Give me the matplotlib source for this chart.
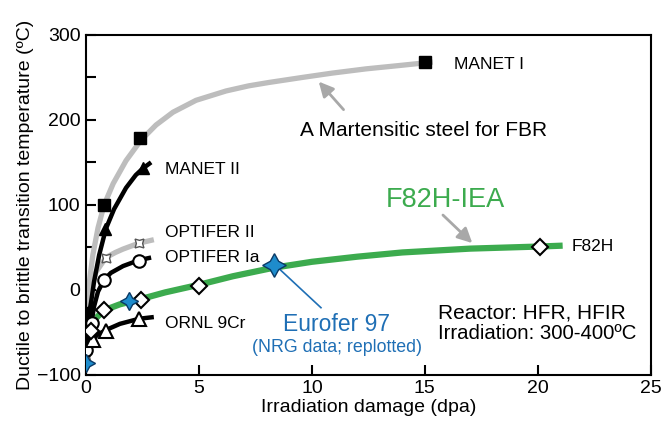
import matplotlib
matplotlib.use("Agg")
import matplotlib.pyplot as plt

plt.rcParams['font.family'] = ['Liberation Sans', 'DejaVu Sans']

# measured DBTT shift points (dpa, degC)
manet1_dpa = [0.0, 0.8, 2.4, 15.0]
manet1_t = [-27, 100, 179, 268]
manet2_dpa = [0.0, 0.86, 2.5]
manet2_t = [-42, 72, 143]
optifer2_dpa = [0.0, 0.88, 2.35]
optifer2_t = [-79, 37, 55]
optifer1a_dpa = [0.0, 0.27, 0.8, 2.35]
optifer1a_t = [-71, -39, 12, 34]
ornl_dpa = [0.3, 0.9, 2.35]
ornl_t = [-59, -48, -34]
f82h_dpa = [0.22, 0.8, 2.43, 5.0, 20.1]
f82h_t = [-48, -24, -12, 5, 50]
eurofer_dpa = [0.0, 1.9, 8.3]
eurofer_t = [-86, -13, 29]

# trend curves traced through each data set
manet1_fit_dpa = [0.03, 0.13, 0.3, 0.53, 0.8, 1.2, 1.77, 2.43, 3.1, 3.85, 4.87,
                  6.2, 7.2, 8.1, 9.6, 10.9, 12.4, 13.9, 15.35]
manet1_fit_t = [-30, 6, 41, 73, 100, 125, 152, 176, 194, 209, 223,
                234, 240, 244, 250, 255, 260, 264, 268]
manet2_fit_dpa = [0.05, 0.22, 0.35, 0.58, 0.88, 1.24, 1.77, 2.2, 2.52, 2.88]
manet2_fit_t = [-40, -15, 9, 41, 72, 95, 120, 135, 143, 150]
optifer2_fit_dpa = [0.05, 0.22, 0.44, 0.88, 1.3, 1.64, 2.35, 3.0]
optifer2_fit_t = [-35, 2, 21, 38, 44, 48, 55, 59]
optifer1a_fit_dpa = [0.08, 0.2, 0.35, 0.53, 0.8, 1.1, 1.64, 2.35, 2.88]
optifer1a_fit_t = [-65, -45, -20, -2, 12, 20, 28, 35, 38]
ornl_fit_dpa = [0.15, 0.5, 0.9, 1.5, 2.35, 3.0]
ornl_fit_t = [-62, -53, -47, -40, -34, -32]
f82h_fit_dpa = [0.45, 0.8, 1.5, 2.4, 3.5, 5.0, 6.5, 8.3, 10.0, 12.0, 14.0, 17.0, 20.1, 21.1]
f82h_fit_t = [-33, -24, -17, -11, -3, 6, 16, 26, 33, 39, 44, 48.5, 51, 52]

gray = '#bdbdbd'
green = '#3cab4e'
blue = '#1f6fb5'

fig = plt.figure(figsize=(6.62, 4.25), dpi=100)
ax = fig.add_axes([0.130, 0.118, 0.853, 0.800])

line_kw = dict(solid_capstyle='butt', solid_joinstyle='round')
ax.plot(manet1_fit_dpa, manet1_fit_t, color=gray, lw=3.8, zorder=2, **line_kw)
ax.plot(optifer2_fit_dpa, optifer2_fit_t, color=gray, lw=3.8, zorder=2, **line_kw)
ax.plot(f82h_fit_dpa, f82h_fit_t, color=green, lw=4.5, zorder=2, **line_kw)
ax.plot(manet2_fit_dpa, manet2_fit_t, color='black', lw=3.2, zorder=3, **line_kw)
ax.plot(optifer1a_fit_dpa, optifer1a_fit_t, color='black', lw=3.2, zorder=3, **line_kw)
ax.plot(ornl_fit_dpa, ornl_fit_t, color='black', lw=3.2, zorder=3, **line_kw)

ax.plot(manet1_dpa, manet1_t, 's', ms=9, color='black', zorder=5)
ax.plot(manet2_dpa, manet2_t, '^', ms=9, color='black', zorder=5)
ax.plot(optifer2_dpa, optifer2_t, marker=(4, 1, 45), ls='none', ms=9, mfc='white',
        mec='#555555', mew=1.0, zorder=5)
ax.plot(optifer1a_dpa, optifer1a_t, 'o', ms=9, mfc='white', mec='black', mew=1.5, zorder=5)
ax.plot(ornl_dpa, ornl_t, '^', ms=10, mfc='white', mec='black', mew=1.5, zorder=5)
ax.plot(f82h_dpa, f82h_t, 'D', ms=8.5, mfc='white', mec='black', mew=1.5, zorder=5)
ax.plot(eurofer_dpa[:2], eurofer_t[:2], marker=(4, 1, 0), ls='none', ms=13,
        mfc='#1e8ccc', mec='#0b3a66', mew=1.0, zorder=6)
ax.plot(eurofer_dpa[2:], eurofer_t[2:], marker=(4, 1, 0), ls='none', ms=17,
        mfc='#1e8ccc', mec='#0b3a66', mew=1.0, zorder=6)

# curve labels
ax.text(16.3, 265, 'MANET I', fontsize=12.5, va='center')
ax.text(3.5, 141, 'MANET II', fontsize=12.5, va='center')
ax.text(3.5, 68, 'OPTIFER II', fontsize=12.5, va='center')
ax.text(3.5, 38, 'OPTIFER Ia', fontsize=12.5, va='center')
ax.text(3.5, -39, 'ORNL 9Cr', fontsize=12.5, va='center')
ax.text(21.5, 51, 'F82H', fontsize=12.5, va='center')

ax.text(14.95, 188, 'A Martensitic steel for FBR', fontsize=15, ha='center', va='center')
ax.annotate('', xy=(10.3, 245), xytext=(11.4, 212),
            arrowprops=dict(arrowstyle='-|>', color='#a8a8a8', lw=2, mutation_scale=22,
                            shrinkA=0, shrinkB=0))

ax.text(15.9, 106, 'F82H-IEA', fontsize=19.5, color=green, ha='center', va='center')
ax.annotate('', xy=(17.1, 55), xytext=(15.8, 88),
            arrowprops=dict(arrowstyle='-|>', color='#a8a8a8', lw=2, mutation_scale=22,
                            shrinkA=0, shrinkB=0))

ax.text(11.1, -41, 'Eurofer 97', fontsize=16.5, color=blue, ha='center', va='center')
ax.text(11.1, -68, '(NRG data; replotted)', fontsize=12.8, color=blue, ha='center', va='center')
ax.plot([10.4, 8.5], [-21, 26], color=blue, lw=1.2, zorder=4)

ax.text(15.6, -27, 'Reactor: HFR, HFIR', fontsize=15, va='center')
ax.text(15.6, -51, 'Irradiation: 300-400ºC', fontsize=14.7, va='center')

ax.set_xlim(0, 25)
ax.set_ylim(-100, 300)
ax.set_xticks([0, 5, 10, 15, 20, 25])
ax.set_yticks([-100, 0, 100, 200, 300])
ax.set_yticks([-50, 50, 150, 250], minor=True)
ax.tick_params(direction='in', length=7, width=1.5, labelsize=14, pad=4)
ax.tick_params(which='minor', direction='in', length=7, width=1.5)
for s in ax.spines.values():
    s.set_linewidth(1.5)

ax.set_xlabel('Irradiation damage (dpa)', fontsize=14, labelpad=1)
ax.set_ylabel('Ductile to brittle transition temperature (ºC)', fontsize=14, labelpad=2)

fig.savefig('out.png', dpi=100)
